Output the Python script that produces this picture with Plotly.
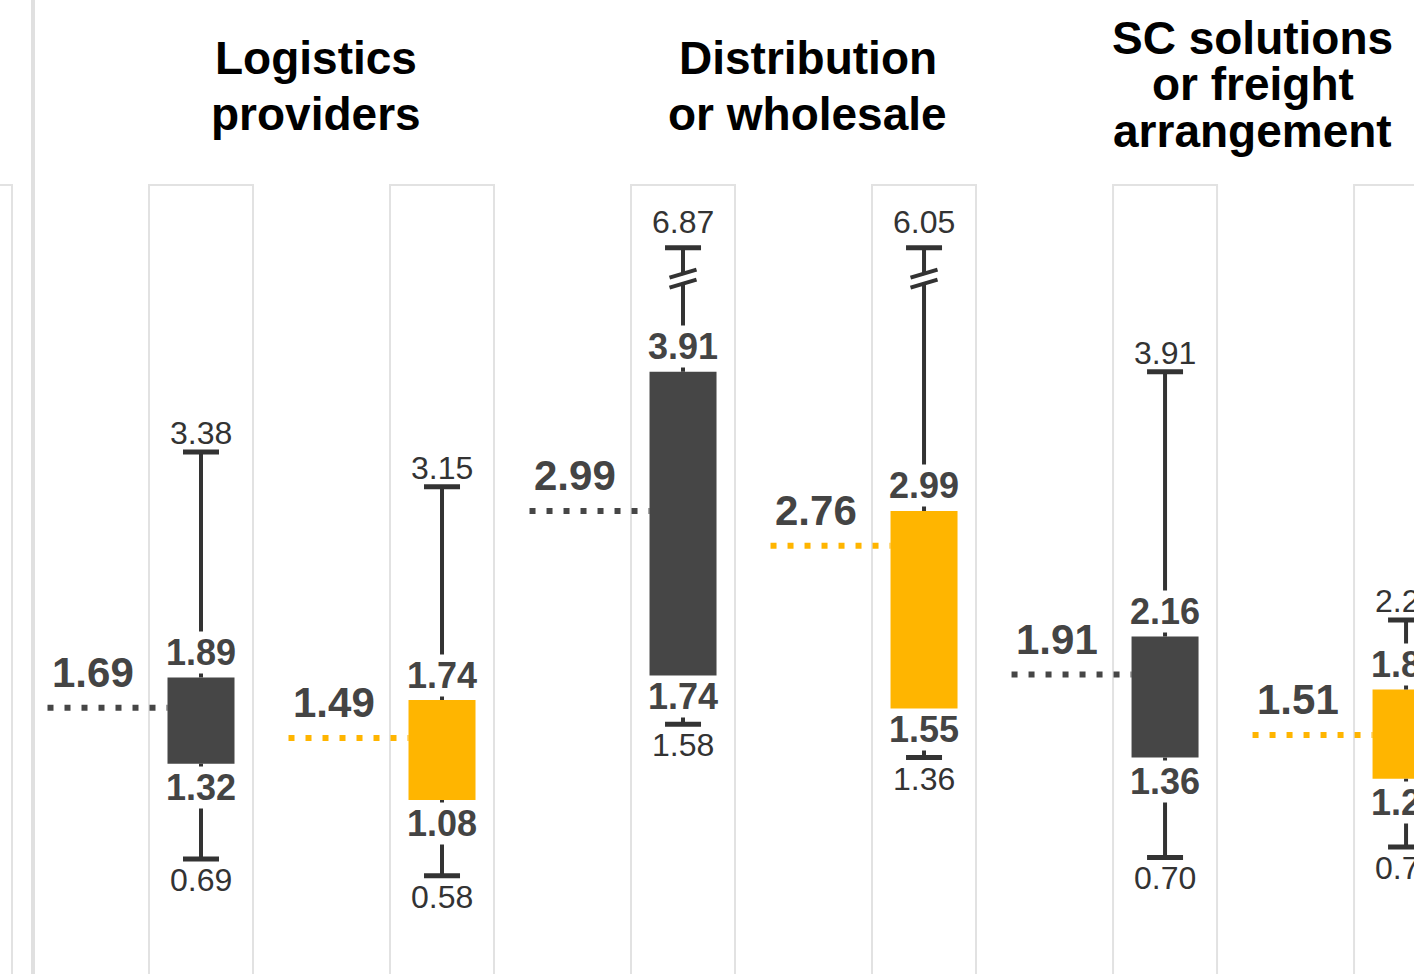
import plotly.graph_objects as go

# ---------------- data ----------------
group_titles = [["Logistics", "providers"],
                ["Distribution", "or wholesale"],
                ["SC solutions", "or freight", "arrangement"]]
series_colors = ["#464646", "#FFB500"]          # dark series, yellow series
positions = [0, 1, 2, 3, 4, 5]                    # dark/yellow pairs per group
low  = [0.69, 0.58, 1.58, 1.36, 0.70, 0.77]
q1   = [1.32, 1.08, 1.74, 1.55, 1.36, 1.22]
q3   = [1.89, 1.74, 3.91, 2.99, 2.16, 1.81]
high = [3.38, 3.15, 6.87, 6.05, 3.91, 2.27]
mean = [1.69, 1.49, 2.99, 2.76, 1.91, 1.51]
panel_positions = [-1, 0, 1, 2, 3, 4, 5]

# ---------------- layout constants ----------------
W, H = 1414, 974
X_MIN, X_MAX = -0.834, 5.033
Y_MIN, Y_MAX = -0.07, 6.367
PXX = (X_MAX - X_MIN) / W
PXY = (Y_MAX - Y_MIN) / H
BOX_HALF = 33.5 * PXX
PANEL_HALF = 52 * PXX
CAP_HALF = 18 * PXX
BREAK_AT = 4.73
FONT = "Liberation Sans, Arial, Helvetica, sans-serif"
WHISKER = "#333333"
LABEL = "#444444"

fig = go.Figure()

# panels
shapes = []
panel_top = 1 - 185 / H
for p in panel_positions:
    shapes.append(dict(type="rect", xref="x", yref="paper", layer="below",
                       x0=p - PANEL_HALF, x1=p + PANEL_HALF, y0=-0.2, y1=panel_top,
                       line=dict(color="#e2e2e2", width=2), fillcolor="rgba(0,0,0,0)"))
# separator
shapes.append(dict(type="line", xref="x", yref="paper", layer="below",
                   x0=-0.697, x1=-0.697, y0=0, y1=1,
                   line=dict(color="#e0e0e0", width=4)))

tops = [min(h, BREAK_AT) for h in high]

# whiskers
wx, wy, cx, cy = [], [], [], []
for p, a, b, c, t in zip(positions, low, q1, q3, tops):
    wx += [p, p, None, p, p, None]
    wy += [c, t, None, b, a, None]
    cx += [p - CAP_HALF, p + CAP_HALF, None, p - CAP_HALF, p + CAP_HALF, None]
    cy += [t, t, None, a, a, None]
fig.add_trace(go.Scatter(x=wx, y=wy, mode="lines", line=dict(color=WHISKER, width=4),
                         hoverinfo="skip", showlegend=False))
fig.add_trace(go.Scatter(x=cx, y=cy, mode="lines", line=dict(color=WHISKER, width=5),
                         hoverinfo="skip", showlegend=False))

# boxes
colors = [series_colors[i % 2] for i in range(len(positions))]
fig.add_trace(go.Bar(x=positions, y=[c - b for b, c in zip(q1, q3)], base=q1,
                     width=2 * BOX_HALF, marker=dict(color=colors, line=dict(width=0)),
                     hoverinfo="skip", showlegend=False))

# mean dotted lines
for p, m, col in zip(positions, mean, colors):
    x1 = p - BOX_HALF
    x0 = x1 - 120 * PXX
    fig.add_trace(go.Scatter(x=[x0, x1], y=[m, m], mode="lines",
                             line=dict(color=col, width=6, dash="6px,11px"),
                             hoverinfo="skip", showlegend=False))

# axis-break marks
for p, h, t in zip(positions, high, tops):
    if h > BREAK_AT:
        yc = t - 31 * PXY
        dx, dy = 13.5 * PXX, 4 * PXY
        shapes.append(dict(type="line", xref="x", yref="y", layer="above",
                           x0=p - dx * 0.6, x1=p + dx * 0.6, y0=yc - dy * 0.6, y1=yc + dy * 0.6,
                           line=dict(color="white", width=7)))
        for off in (5 * PXY, -5 * PXY):
            shapes.append(dict(type="line", xref="x", yref="y", layer="above",
                               x0=p - dx, x1=p + dx, y0=yc + off - dy, y1=yc + off + dy,
                               line=dict(color=WHISKER, width=4)))

# annotations
ann = []
for p, a, b, c, h, t, m in zip(positions, low, q1, q3, high, tops, mean):
    ann.append(dict(x=p, y=t, yshift=26 if h > BREAK_AT else 19, text=f"{h:.2f}",
                    showarrow=False, yanchor="middle",
                    font=dict(family=FONT, size=32, color="#333333")))
    ann.append(dict(x=p, y=a, yshift=-21, text=f"{a:.2f}", showarrow=False,
                    font=dict(family=FONT, size=32, color="#333333"), yanchor="middle"))
    ann.append(dict(x=p, y=c, yshift=25, text=f"<b>{c:.2f}</b>", showarrow=False,
                    bgcolor="white", borderpad=0,
                    font=dict(family=FONT, size=36, color=LABEL), yanchor="middle"))
    below = min(24, (b - a) / PXY - 28)
    ann.append(dict(x=p, y=b, yshift=-below, text=f"<b>{b:.2f}</b>", showarrow=False,
                    bgcolor="white", borderpad=0,
                    font=dict(family=FONT, size=36, color=LABEL), yanchor="middle"))
    ann.append(dict(x=p - BOX_HALF, y=m, xshift=-75, yshift=35, text=f"<b>{m:.2f}</b>",
                    showarrow=False, font=dict(family=FONT, size=42, color=LABEL),
                    xanchor="center", yanchor="middle"))

title_x_shift = [-6, 4, -33]
title_baselines = [[74, 130], [74, 130], [54, 100, 147]]
TITLE_SIZE = 46
for g, lines in enumerate(group_titles):
    for line, base in zip(lines, title_baselines[g]):
        yc = base - 0.3465 * TITLE_SIZE
        ann.append(dict(x=2 * g + 0.5, xshift=title_x_shift[g], yref="paper", y=1 - yc / H,
                        text=f"<b>{line}</b>", showarrow=False, yanchor="middle",
                        font=dict(family=FONT, size=TITLE_SIZE, color="#000000")))

fig.update_layout(
    width=W, height=H, margin=dict(l=0, r=0, t=0, b=0),
    paper_bgcolor="white", plot_bgcolor="white",
    xaxis=dict(range=[X_MIN, X_MAX], visible=False, fixedrange=True),
    yaxis=dict(range=[Y_MIN, Y_MAX], visible=False, fixedrange=True),
    shapes=shapes, annotations=ann, showlegend=False,
)
fig.write_html("out.html")
